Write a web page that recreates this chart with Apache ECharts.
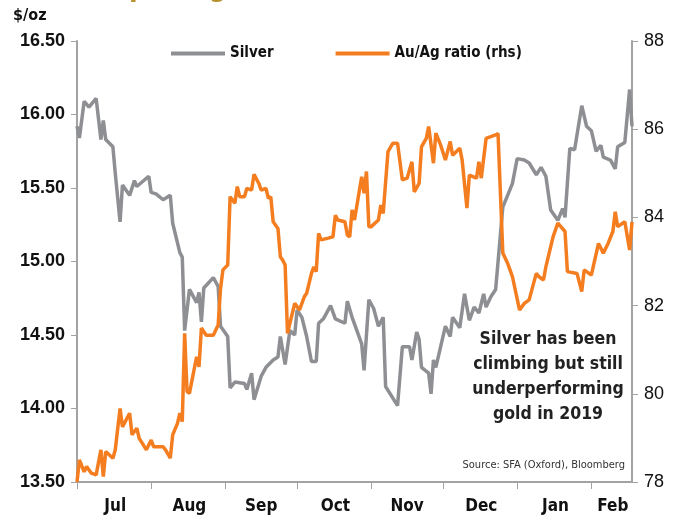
<!DOCTYPE html>
<html>
<head>
<meta charset="utf-8">
<script src="https://cdn.jsdelivr.net/npm/echarts@6/dist/echarts.min.js"></script>
<style>
  html, body { margin: 0; padding: 0; background: #fff; }
  #main { width: 683px; height: 520px; }
</style>
</head>
<body>
<div id="main"></div>
<script>
// day offsets from 1 Jul 2018
var startDate = [2018, 6, 1];
var dayCount = 233;
var monthNames = ['Jul', 'Aug', 'Sep', 'Oct', 'Nov', 'Dec', 'Jan', 'Feb'];

var silverDays = [0, 1, 3, 5, 8, 10, 11, 12, 15, 16, 18, 19, 22, 24, 25, 30, 31, 33, 36, 39,
  40, 43, 44, 45, 47, 50, 51, 52, 53, 57, 59, 60, 63, 64, 66, 70, 71, 73, 74, 77,
  79, 82, 84, 85, 87, 89, 91, 92, 94, 96, 98, 100, 101, 103, 106, 108, 112, 113, 115, 119,
  120, 122, 124, 126, 128, 129, 134, 136, 139, 140, 142, 143, 144, 147, 148, 149, 150, 154, 156, 157,
  160, 162, 164, 166, 168, 170, 171, 173, 175, 178, 180, 182, 184, 187, 189, 192, 194, 196, 198, 201,
  203, 204, 206, 208, 211, 213, 215, 217, 219, 220, 223, 225, 226, 229, 231, 232];
var silverVals = [15.92, 15.84, 16.09, 16.05, 16.11, 15.83, 15.96, 15.83, 15.78, 15.60, 15.27, 15.52, 15.45, 15.55, 15.51, 15.58, 15.47, 15.46, 15.42, 15.45,
  15.26, 15.06, 15.03, 14.53, 14.81, 14.72, 14.79, 14.59, 14.82, 14.89, 14.83, 14.56, 14.49, 14.14, 14.18, 14.17, 14.13, 14.24, 14.06, 14.22,
  14.28, 14.33, 14.35, 14.49, 14.30, 14.53, 14.50, 14.67, 14.62, 14.49, 14.32, 14.32, 14.58, 14.61, 14.70, 14.61, 14.58, 14.73, 14.62, 14.44,
  14.26, 14.74, 14.68, 14.56, 14.62, 14.15, 14.02, 14.42, 14.42, 14.33, 14.52, 14.47, 14.28, 14.24, 14.10, 14.33, 14.28, 14.56, 14.49, 14.62,
  14.55, 14.78, 14.60, 14.69, 14.65, 14.78, 14.69, 14.76, 14.81, 15.37, 15.45, 15.53, 15.70, 15.69, 15.67, 15.59, 15.64, 15.58, 15.35, 15.28,
  15.36, 15.30, 15.77, 15.76, 16.06, 15.92, 15.89, 15.75, 15.79, 15.71, 15.69, 15.63, 15.78, 15.81, 16.17, 15.92];

var ratioDays = [0, 1, 3, 4, 6, 8, 10, 11, 12, 15, 16, 18, 19, 22, 23, 25, 26, 29, 31, 32,
  36, 37, 39, 40, 42, 43, 44, 45, 46, 47, 50, 51, 52, 54, 57, 59, 60, 61, 63, 64,
  66, 67, 68, 70, 71, 73, 74, 76, 77, 79, 80, 81, 82, 84, 85, 86, 87, 88, 91, 93,
  95, 96, 98, 99, 100, 101, 102, 105, 107, 108, 109, 112, 113, 114, 115, 116, 119, 120, 121, 122,
  123, 126, 127, 128, 130, 132, 134, 136, 138, 140, 141, 143, 144, 146, 147, 149, 150, 152, 154, 156,
  157, 160, 161, 163, 164, 167, 168, 169, 171, 175, 176, 178, 180, 181, 182, 185, 187, 189, 192, 193,
  195, 196, 199, 201, 204, 205, 209, 211, 212, 215, 218, 220, 222, 224, 225, 226, 229, 231, 232];
var ratioVals = [78.0, 78.50, 78.23, 78.35, 78.20, 78.16, 78.73, 78.12, 78.69, 78.54, 78.73, 79.67, 79.25, 79.56, 79.07, 79.22, 78.99, 78.73, 78.95, 78.80,
  78.80, 78.73, 78.54, 79.07, 79.33, 79.56, 79.37, 81.37, 80.05, 80.01, 80.84, 80.61, 81.49, 81.33, 81.33, 81.56, 82.39, 82.81, 82.92, 84.47,
  84.32, 84.70, 84.47, 84.47, 84.66, 84.62, 84.98, 84.77, 84.62, 84.66, 84.43, 84.47, 83.90, 83.75, 83.11, 83.03, 82.92, 81.37, 82.05, 81.90,
  82.20, 82.28, 82.73, 82.88, 82.77, 83.64, 83.49, 83.53, 83.56, 84.05, 83.94, 83.90, 83.60, 83.56, 84.17, 83.94, 84.92, 84.55, 85.04, 83.79,
  83.79, 83.94, 84.28, 84.09, 85.49, 85.68, 85.68, 84.85, 84.89, 85.26, 84.58, 84.77, 85.60, 85.79, 86.06, 85.23, 85.91, 85.64, 85.30, 85.72,
  85.41, 85.57, 85.30, 84.21, 84.96, 84.89, 85.26, 84.89, 85.79, 85.87, 85.90, 83.19, 82.96, 82.81, 82.66, 81.90, 82.05, 82.13, 82.73, 82.66,
  82.58, 82.88, 83.56, 83.87, 83.68, 82.77, 82.73, 82.32, 82.81, 82.69, 83.41, 83.19, 83.41, 83.68, 84.13, 83.79, 83.90, 83.26, 83.90];

var days = [];
for (var i = 0; i < dayCount; i++) {
  days.push(new Date(startDate[0], startDate[1], startDate[2] + i));
}
var dayLabels = days.map(function (d) {
  return d.getFullYear() + '-' + (d.getMonth() + 1) + '-' + d.getDate();
});

// label sits in the middle of each month's span
var monthStarts = [];
days.forEach(function (d, i) { if (d.getDate() === 1) monthStarts.push(i); });
var labelAt = {};
monthStarts.forEach(function (s, k) {
  var e = k + 1 < monthStarts.length ? monthStarts[k + 1] : dayCount - 1;
  labelAt[Math.round((s + e) / 2)] = monthNames[k];
});

function fill(dayIdx, vals) {
  var out = new Array(dayCount).fill(null);
  dayIdx.forEach(function (d, k) { out[d] = vals[k]; });
  return out;
}

var narrow = "'Liberation Sans Narrow', 'DejaVu Sans Condensed', sans-serif";
var grey = '#8e8f93';
var orange = '#f47d20';
var axisGrey = '#a3a3a3';

var chart = echarts.init(document.getElementById('main'));
chart.setOption({
  backgroundColor: '#fff',
  animation: false,
  grid: { left: 77, right: 51, top: 41, bottom: 38 },
  legend: {
    left: 166, top: 41,
    icon: 'rect', itemWidth: 54, itemHeight: 4, itemGap: 62,
    textStyle: { fontFamily: narrow, fontWeight: 'bold', fontSize: 15, color: '#111' },
    data: ['Silver', 'Au/Ag ratio (rhs)']
  },
  xAxis: {
    type: 'category',
    data: dayLabels,
    boundaryGap: false,
    axisLine: { lineStyle: { color: axisGrey, width: 2 } },
    axisTick: {
      length: 7,
      lineStyle: { color: axisGrey, width: 1 },
      interval: function (i) { return days[i].getDate() === 1; }
    },
    axisLabel: {
      interval: function (i) { return labelAt[i] !== undefined; },
      formatter: function (v, i) { return labelAt[i] || ''; },
      margin: 16,
      fontFamily: narrow, fontWeight: 'bold', fontSize: 17, color: '#111'
    },
    splitLine: { show: false }
  },
  yAxis: [{
    type: 'value', min: 13.5, max: 16.5, interval: 0.5,
    axisLine: { show: true, lineStyle: { color: axisGrey, width: 2 } },
    axisTick: { show: true, length: 6, lineStyle: { color: axisGrey } },
    axisLabel: {
      formatter: function (v) { return v.toFixed(2); },
      margin: 12,
      fontFamily: 'Liberation Sans, Arial, sans-serif', fontWeight: 'bold', fontSize: 18, color: '#111'
    },
    splitLine: { show: false }
  }, {
    type: 'value', min: 78, max: 88, interval: 2,
    axisLine: { show: true, lineStyle: { color: axisGrey, width: 2 } },
    axisTick: { show: true, length: 6, lineStyle: { color: axisGrey } },
    axisLabel: {
      margin: 12,
      fontFamily: 'Liberation Sans, Arial, sans-serif', fontSize: 18, color: '#111'
    },
    splitLine: { show: false }
  }],
  series: [{
    name: 'Silver', type: 'line', yAxisIndex: 0,
    data: fill(silverDays, silverVals),
    connectNulls: true, showSymbol: false,
    lineStyle: { color: grey, width: 3.5 }, itemStyle: { color: grey }
  }, {
    name: 'Au/Ag ratio (rhs)', type: 'line', yAxisIndex: 1,
    data: fill(ratioDays, ratioVals),
    connectNulls: true, showSymbol: false,
    lineStyle: { color: orange, width: 3.5 }, itemStyle: { color: orange }
  }],
  graphic: [{
    type: 'text', left: 39, top: -25,
    style: { text: 'Silver price gains', fontFamily: narrow, fontWeight: 'bold', fontSize: 28, fill: '#b8912f' }
  }, {
    type: 'text', left: 13, top: 8,
    style: { text: '$/oz', fontFamily: narrow, fontWeight: 'bold', fontSize: 16, fill: '#111' }
  }, {
    type: 'text', x: 548, y: 327,
    style: {
      text: 'Silver has been\nclimbing but still\nunderperforming\ngold in 2019',
      align: 'center', verticalAlign: 'top',
      fontFamily: narrow, fontWeight: 'bold', fontSize: 17.5, lineHeight: 25, fill: '#222'
    }
  }, {
    type: 'text', right: 58, top: 460,
    style: { text: 'Source: SFA (Oxford), Bloomberg', fontFamily: narrow, fontSize: 11, fill: '#333' }
  }]
});
</script>
</body>
</html>
